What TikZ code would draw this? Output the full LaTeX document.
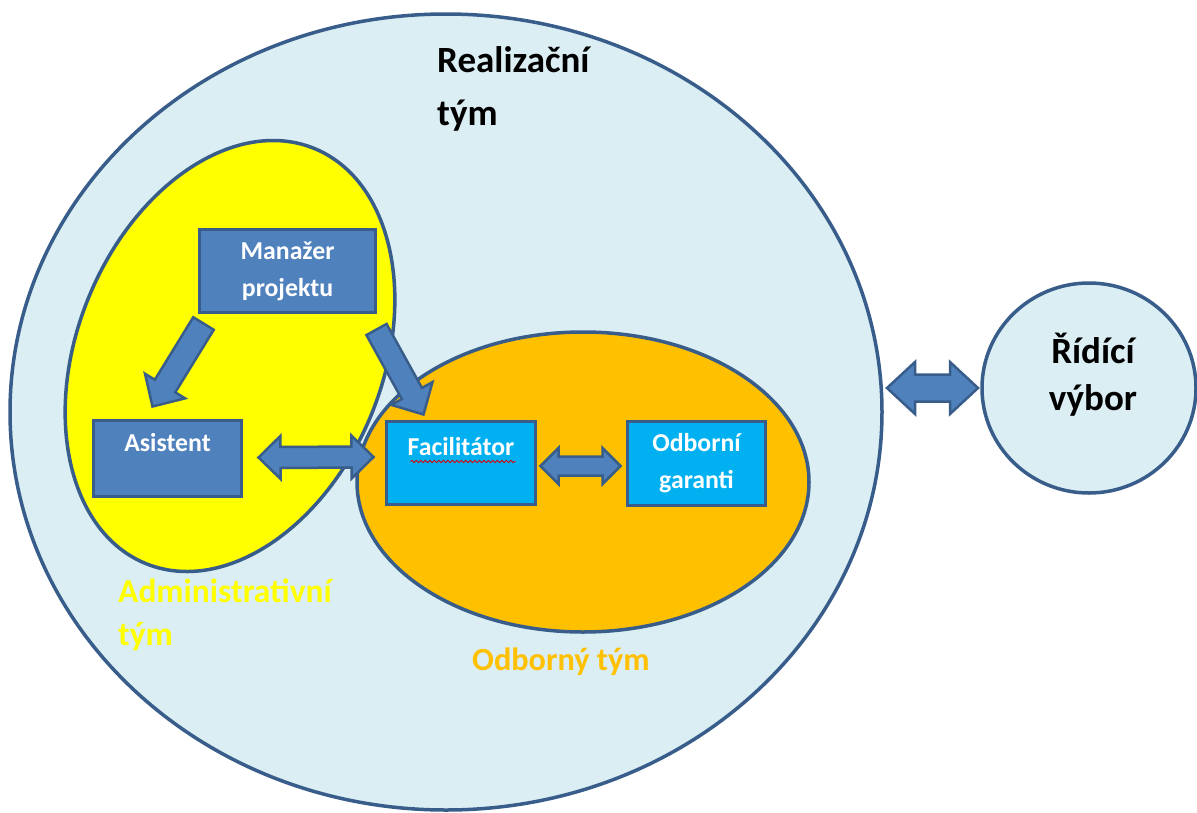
\documentclass[tikz,border=0pt]{standalone}
\usepackage{fontspec}
\setmainfont{Carlito}
\usetikzlibrary{shapes.geometric, calc, positioning, decorations.pathmorphing}

\definecolor{paleblue}{HTML}{DAEEF3}
\definecolor{edgeblue}{HTML}{385D8A}
\definecolor{boxblue}{HTML}{4F81BD}
\definecolor{facblue}{HTML}{00B0F0}
\definecolor{teamyellow}{HTML}{FFFF00}
\definecolor{teamorange}{HTML}{FFC000}

% block arrow: from, to, half shaft, half head, head length
\newcommand{\blockarrow}[5]{%
  \path (#1) coordinate (ba-s) (#2) coordinate (ba-t);
  \path ($(ba-t)!#5!(ba-s)$) coordinate (ba-h);
  \draw [blockarr] ($(ba-s)!#3!90:(ba-t)$) -- ($(ba-h)!#3!90:(ba-t)$) -- ($(ba-h)!#4!90:(ba-t)$)
    -- (ba-t) -- ($(ba-h)!#4!-90:(ba-t)$) -- ($(ba-h)!#3!-90:(ba-t)$) -- ($(ba-s)!#3!-90:(ba-t)$) -- cycle;
}
% same with a head at both ends
\newcommand{\dblarrow}[5]{%
  \path (#1) coordinate (da-s) (#2) coordinate (da-t);
  \path ($(da-s)!#5!(da-t)$) coordinate (da-p) ($(da-t)!#5!(da-s)$) coordinate (da-q);
  \draw [blockarr] (da-s) -- ($(da-p)!#4!90:(da-t)$) -- ($(da-p)!#3!90:(da-t)$) -- ($(da-q)!#3!90:(da-t)$)
    -- ($(da-q)!#4!90:(da-t)$) -- (da-t) -- ($(da-q)!#4!-90:(da-t)$) -- ($(da-q)!#3!-90:(da-t)$)
    -- ($(da-p)!#3!-90:(da-t)$) -- ($(da-p)!#4!-90:(da-t)$) -- cycle;
}

\begin{document}
\begin{tikzpicture}[
    x=1pt, y=-1pt,
    every node/.style={font=\bfseries},
    team/.style={ellipse, draw=edgeblue, line width=3.5pt, inner sep=0pt, outer sep=0pt},
    teamname/.style={anchor=north west, align=left, inner sep=0pt},
    member/.style={rectangle, draw=edgeblue, line width=3pt, fill=boxblue, text=white, inner sep=0pt, outer sep=0pt, align=center, font=\bfseries\fontsize{25.8}{37}\selectfont},
    blockarr/.style={draw=edgeblue, line width=2.5pt, fill=boxblue, line join=miter},
    spellwave/.style={draw=red!85!black, line width=0.8pt, decorate, decoration={snake, amplitude=1.2pt, segment length=4.5pt}}
]
\useasboundingbox (0,0) rectangle (1197,812);

% teams
\node (real) [team, fill=paleblue, minimum width=872pt, minimum height=796pt] at (446,412) {};
\node (adm) [team, fill=teamyellow, minimum width=306pt, minimum height=448pt, rotate=-22] at (230,356) {};
\node (odbt) [team, fill=teamorange, minimum width=452pt, minimum height=300pt] at (583,482) {};
\node (rid) [team, fill=paleblue, minimum width=214pt, minimum height=210pt] at (1089,388) {};

\node (realname) [teamname, font=\bfseries\fontsize{37}{53}\selectfont] at (437,46) {Realizační\\tým};
\node (admname) [teamname, text=teamyellow, font=\bfseries\fontsize{33.5}{43}\selectfont] at (118,579) {Administrativní\\tým};
\node (odbname) [teamname, text=teamorange, font=\bfseries\fontsize{32.3}{40}\selectfont] at (472,648) {Odborný tým};
\node (ridname) [align=center, font=\bfseries\fontsize{37}{47}\selectfont] at (1093,375) {Řídící\\výbor};

% members
\node (mgr) [member, minimum width=176pt, minimum height=83pt] at (287.5,271) {Manažer\\projektu};
\node (asi) [member, minimum width=148pt, minimum height=76pt, text height=17pt, text depth=32pt] at (167.5,458.5) {Asistent};
\node (fac) [member, fill=facblue, minimum width=149pt, minimum height=83pt, text height=17pt, text depth=32pt] at (461,463) {Facilitátor};
\node (odb) [member, fill=facblue, minimum width=138pt, minimum height=84pt, right=92pt of fac] {Odborní\\garanti};
\draw [spellwave] ($(fac.north west)+(24,40)$) -- ($(fac.north west)+(129,40)$);

% arrows
\blockarrow{$(mgr.south west)+(4,11)$}{$(asi.north west)+(59,-14)$}{12pt}{23.5pt}{24pt}
\blockarrow{$(mgr.south east)+(1,17)$}{$(fac.north west)+(37,-7)$}{11.5pt}{23.5pt}{24pt}
\dblarrow{$(asi.east)+(17,-1)$}{$(fac.west)+(-13,-6)$}{10.5pt}{21.5pt}{22pt}
\dblarrow{$(fac.east)+(5,3)$}{$(odb.west)+(-7,3)$}{9.5pt}{18pt}{18pt}
\dblarrow{$(real.east |- rid.west)+(5,0)$}{$(rid.west)+(-4,0)$}{13.5pt}{26pt}{28pt}
\end{tikzpicture}
\end{document}
